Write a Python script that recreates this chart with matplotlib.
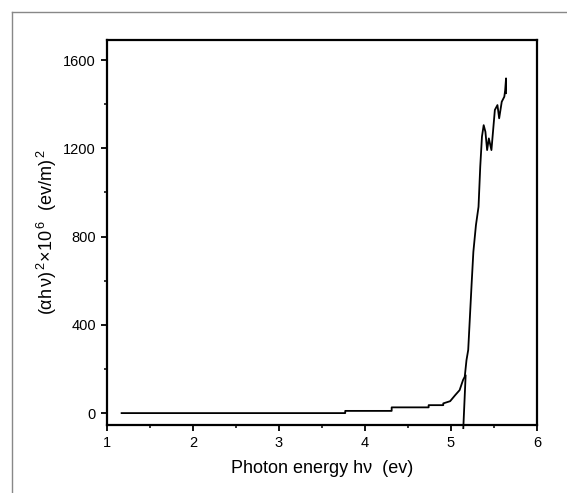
import matplotlib
matplotlib.use("Agg")
import matplotlib.pyplot as plt
from matplotlib.lines import Line2D
from matplotlib.ticker import MultipleLocator

plt.rcParams['font.family'] = ['Liberation Sans', 'DejaVu Sans']
plt.rcParams['mathtext.fontset'] = 'custom'
plt.rcParams['mathtext.rm'] = 'Liberation Sans'
plt.rcParams['mathtext.it'] = 'Liberation Sans'

# data
energy = [1.17, 3.77, 3.77, 4.31, 4.31, 4.74, 4.74, 4.91, 4.91, 4.99, 5.05, 5.10,
          5.14, 5.16, 5.18, 5.20, 5.22, 5.24, 5.26, 5.29, 5.32, 5.34, 5.36, 5.38,
          5.40, 5.42, 5.44, 5.47, 5.49, 5.51, 5.54, 5.56, 5.59, 5.62, 5.63, 5.64, 5.64]
absorb = [0, 0, 10, 10, 26, 26, 36, 36, 44, 54, 82, 104,
          150, 165, 240, 286, 437, 588, 731, 852, 935, 1117, 1253, 1305,
          1275, 1192, 1245, 1192, 1283, 1374, 1396, 1336, 1411, 1434, 1464, 1517, 1450]
tangent_x = [5.143, 5.17]
tangent_y = [-68, 170]

x_ticks = [1, 2, 3, 4, 5, 6]
y_ticks = [0, 400, 800, 1200, 1600]

fig = plt.figure(figsize=(5.67, 4.93), dpi=100)
ax = fig.add_axes([0.1887, 0.1379, 0.9471 - 0.1887, 0.9189 - 0.1379])

ax.plot(energy, absorb, color='black', lw=1.3)
ax.plot(tangent_x, tangent_y, color='black', lw=1.3, clip_on=False)

ax.set_xlim(1, 6)
ax.set_ylim(-54, 1691)
ax.set_xticks(x_ticks)
ax.set_yticks(y_ticks)
ax.xaxis.set_minor_locator(MultipleLocator(0.5))
ax.yaxis.set_minor_locator(MultipleLocator(200))
ax.tick_params(which='major', direction='out', length=4, width=1.3, labelsize=10.5, pad=4)
ax.tick_params(which='minor', direction='out', length=2.5, width=1.1)
for s in ax.spines.values():
    s.set_linewidth(1.6)

ax.set_xlabel('Photon energy hν  (ev)', fontsize=13, labelpad=7)
ax.set_ylabel(r'$\mathrm{(αh\,ν)}^{\,2}\!\times\!\mathrm{10}^{\,6}\ \ \mathrm{(ev/m)}^{\,2}$',
              fontsize=13, labelpad=3)

# outer gray frame (top and left)
fig.add_artist(Line2D([12/567, 1], [1 - 12/493, 1 - 12/493], color='#888888', lw=1.0, transform=fig.transFigure))
fig.add_artist(Line2D([12/567, 12/567], [0, 1 - 12/493], color='#888888', lw=1.0, transform=fig.transFigure))

fig.savefig('out.png', dpi=100)
